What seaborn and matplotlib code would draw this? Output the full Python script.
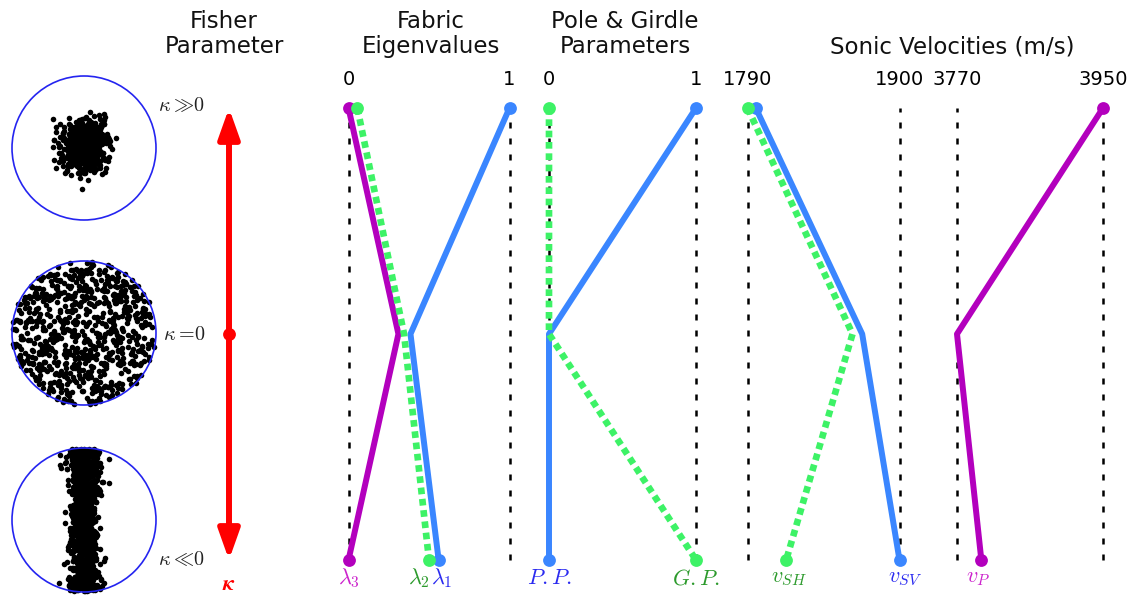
import numpy as np
import pandas as pd
import matplotlib
matplotlib.use("Agg")
import matplotlib.pyplot as plt
import seaborn as sns
from matplotlib.patches import Circle

# Concentration levels shared by every panel (rows: strong cluster, isotropic, girdle)
kappa_levels = [1, 0, -1]
kappa_labels = [r"$\kappa \gg\!0$", r"$\kappa =\!0$", r"$\kappa \ll\!0$"]

# Fabric eigenvalues
lambda1 = [1.00, 0.385, 0.56]
lambda2 = [0.055, 0.345, 0.50]
lambda3 = [0.00, 0.31, 0.00]

# Pole and girdle parameters
pole_param = [1.0, 0.0, 0.0]
girdle_param = [0.0, 0.0, 1.0]

# Sonic velocities (m/s)
v_sh = [1790, 1866, 1818]
v_sv = [1796, 1873, 1900]
v_p = [3950, 3770, 3800]

fabric_ticks = [0, 1]
pg_ticks = [0, 1]
vs_ticks = [1790, 1900]
vp_ticks = [3770, 3950]

# Sample sizes and concentrations for the illustrative stereonets
n_cluster, n_uniform, n_girdle = 650, 720, 1000
fisher_kappa = 18.0
girdle_spread = 0.135

sns.set_theme(style="white")
plt.rcParams["font.family"] = ["DejaVu Sans"]
plt.rcParams["mathtext.fontset"] = "cm"

W, H = 1137, 598
fig = plt.figure(figsize=(W / 100, H / 100), dpi=100)


def box(x0, x1, ytop, ybot):
    return [x0 / W, 1 - ybot / H, (x1 - x0) / W, (ybot - ytop) / H]


BLUE = "#3a86ff"
MAGENTA = "#b300bd"
GREEN = "#3df266"
LBL_BLUE = "#2b2bf0"
LBL_GREEN = "#2c9a2c"
LBL_MAGENTA = "#cc22cc"

Y_TOP, Y_BOT = 108, 560


def panel(x0, x1, ticks):
    ax = fig.add_axes(box(x0, x1, Y_TOP, Y_BOT))
    ax.set_xlim(ticks[0], ticks[-1])
    ax.set_ylim(-1, 1)
    for side in ax.spines.values():
        side.set_visible(False)
    ax.xaxis.tick_top()
    ax.set_xticks(ticks)
    ax.set_xticklabels([str(t) for t in ticks])
    ax.tick_params(axis="x", length=0, pad=14, labelsize=14, colors="black")
    ax.set_yticks([])
    for t in ticks:
        ax.axvline(t, color="black", lw=1.8, ls=(0, (2.4, 4.0)), zorder=1,
                   clip_on=False)
    ax.patch.set_alpha(0)
    return ax


def series(ax, values, color, dotted, z):
    df = pd.DataFrame({"value": values, "kappa": kappa_levels})
    if dotted:
        sns.lineplot(data=df, x="value", y="kappa", sort=False, orient="y",
                     errorbar=None, color=color, lw=4.8, linestyle=(0, (1, 0.7)),
                     ax=ax, clip_on=False, zorder=z)
    else:
        sns.lineplot(data=df, x="value", y="kappa", sort=False, orient="y",
                     errorbar=None, color=color, lw=4.3,
                     ax=ax, clip_on=False, zorder=z)
    ends = df.iloc[[0, -1]]
    sns.scatterplot(data=ends, x="value", y="kappa", color=color, s=85,
                    linewidth=0, ax=ax, clip_on=False, zorder=z + 5)
    ax.set_xlabel("")
    ax.set_ylabel("")


def end_label(ax, text, value, color, dx=0):
    ax.annotate(text, xy=(value, kappa_levels[-1]), xytext=(dx, -13),
                textcoords="offset points", ha="center", va="center",
                color=color, fontsize=16, annotation_clip=False)


# --- Fabric eigenvalues
ax_f = panel(348.5, 509.5, fabric_ticks)
series(ax_f, lambda2, GREEN, True, 4)
series(ax_f, lambda1, BLUE, False, 3)
series(ax_f, lambda3, MAGENTA, False, 3)
end_label(ax_f, r"$\lambda_3$", lambda3[-1], LBL_MAGENTA)
end_label(ax_f, r"$\lambda_2$", lambda2[-1], LBL_GREEN, dx=-7)
end_label(ax_f, r"$\lambda_1$", lambda1[-1], LBL_BLUE, dx=2)

# --- Pole & girdle parameters
ax_g = panel(549, 696, pg_ticks)
series(ax_g, pole_param, BLUE, False, 3)
series(ax_g, girdle_param, GREEN, True, 4)
end_label(ax_g, r"$P{.}P{.}$", pole_param[-1], LBL_BLUE)
end_label(ax_g, r"$G{.}P{.}$", girdle_param[-1], LBL_GREEN)

# --- Shear-wave velocities
ax_s = panel(747.5, 899.5, vs_ticks)
series(ax_s, v_sv, BLUE, False, 3)
series(ax_s, v_sh, GREEN, True, 4)
end_label(ax_s, r"$v_{SH}$", v_sh[-1], LBL_GREEN, dx=2)
end_label(ax_s, r"$v_{SV}$", v_sv[-1], LBL_BLUE, dx=4)

# --- P-wave velocity
ax_p = panel(957, 1103, vp_ticks)
series(ax_p, v_p, MAGENTA, False, 3)
end_label(ax_p, r"$v_P$", v_p[-1], LBL_MAGENTA, dx=-2)

# --- Kappa axis with double arrow
ax_k = fig.add_axes(box(209, 249, Y_TOP, Y_BOT))
ax_k.set_xlim(-1, 1)
ax_k.set_ylim(-1, 1)
ax_k.axis("off")
ax_k.annotate("", xy=(0, kappa_levels[0]), xytext=(0, kappa_levels[-1]),
              arrowprops=dict(arrowstyle="<|-|>,head_length=0.9,head_width=0.32",
                              mutation_scale=20, color="red", lw=4.3,
                              shrinkA=0, shrinkB=0),
              annotation_clip=False)
sns.scatterplot(x=[0], y=[kappa_levels[1]], color="red", s=85, linewidth=0,
                ax=ax_k, clip_on=False, zorder=5)
for lvl, lab in zip(kappa_levels, kappa_labels):
    ax_k.annotate(lab, xy=(0, lvl), xytext=(-17, 2 if lvl == 1 else 0),
                  textcoords="offset points", ha="right", va="center",
                  color="#222222", fontsize=14.5, annotation_clip=False)
ax_k.annotate(r"$\boldsymbol{\kappa}$", xy=(0, kappa_levels[-1]), xytext=(0, -17),
              textcoords="offset points", ha="center", va="center",
              color="red", fontsize=16, annotation_clip=False)


# --- Stereonets: equal-area projections of sampled orientations
def project(v):
    hor = np.hypot(v[:, 0], v[:, 1])
    hor[hor == 0] = 1e-12
    r = np.sqrt(np.clip(1 - np.abs(v[:, 2]), 0, None))
    return v[:, 0] / hor * r, v[:, 1] / hor * r


rng = np.random.default_rng(11)

u = rng.random(n_cluster)
cos_t = 1 + np.log(1 - u * (1 - np.exp(-2 * fisher_kappa))) / fisher_kappa
sin_t = np.sqrt(np.clip(1 - cos_t ** 2, 0, None))
phi = rng.uniform(0, 2 * np.pi, n_cluster)
cx, cy0 = project(np.column_stack([sin_t * np.cos(phi), sin_t * np.sin(phi) * 1.1, -cos_t]))
cluster = (cx, cy0 + 0.04)

r_u = np.sqrt(rng.random(n_uniform))
phi_u = rng.uniform(0, 2 * np.pi, n_uniform)
uniform = (r_u * np.cos(phi_u), r_u * np.sin(phi_u))

alpha = rng.uniform(0, np.pi, n_girdle)
delta = rng.normal(0, girdle_spread, n_girdle)
girdle = project(np.column_stack([np.sin(delta), np.cos(delta) * np.cos(alpha),
                                  -np.cos(delta) * np.sin(alpha)]))

for cy, (px, py) in zip([148, 333, 520], [cluster, uniform, girdle]):
    ax_c = fig.add_axes(box(9, 159, cy - 75, cy + 75))
    lim = 75 / 72
    ax_c.set_xlim(-lim, lim)
    ax_c.set_ylim(-lim, lim)
    ax_c.set_aspect("equal")
    ax_c.axis("off")
    sns.scatterplot(x=px, y=py, color="black", s=16, linewidth=0, ax=ax_c,
                    clip_on=False, zorder=2)
    ax_c.add_patch(Circle((0, 0), 1, fill=False, ec="#2424f0", lw=1.2, zorder=3))

# --- Column headings
title_kw = dict(ha="center", va="center", fontsize=16.5, color="#111111",
                linespacing=1.15)
fig.text(224 / W, 1 - 34 / H, "Fisher\nParameter", **title_kw)
fig.text(431 / W, 1 - 34 / H, "Fabric\nEigenvalues", **title_kw)
fig.text(625 / W, 1 - 34 / H, "Pole & Girdle\nParameters", **title_kw)
fig.text(952 / W, 1 - 47 / H, "Sonic Velocities (m/s)", **title_kw)

fig.savefig("out.png", dpi=100, facecolor="white")
